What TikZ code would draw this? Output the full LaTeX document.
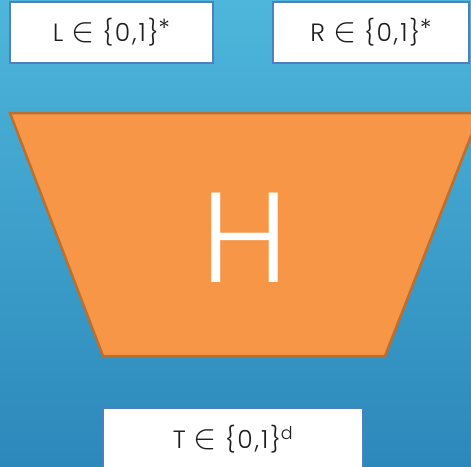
\documentclass[tikz,border=0pt]{standalone}
\usepackage{fontspec}
\setmainfont{Poppins}
\newfontfamily\thinfont{Poppins Light}
\newfontfamily\boxfont[LetterSpace=8]{Poppins Light}
\usetikzlibrary{positioning}
\definecolor{skytop}{RGB}{78,182,219}
\definecolor{skybottom}{RGB}{44,136,186}
\definecolor{boxline}{RGB}{79,127,192}
\definecolor{hashorange}{RGB}{247,150,70}
\definecolor{hashline}{RGB}{190,110,45}
\definecolor{textgray}{RGB}{30,30,30}
\newcommand{\elem}{\hspace{8pt}\scalebox{1.4}{$\in$}\hspace{8pt}}
\newcommand{\kleene}{\raisebox{4pt}{*}}

\begin{document}
\begin{tikzpicture}[x=1pt,y=-1pt,
  inbox/.style={draw=boxline,line width=2pt,fill=white,minimum height=61pt,inner sep=0pt,font=\boxfont\fontsize{25}{28}\selectfont,text=textgray},
  hashbody/.style={fill=hashorange,draw=hashline,line width=2.5pt,line join=miter},
  hashlabel/.style={text=white,font=\thinfont\fontsize{128}{130}\selectfont,inner sep=0pt}
]
  \useasboundingbox (0,0) rectangle (471,466);
  \clip (0,0) rectangle (471,466);
  \shade[top color=skytop,bottom color=skybottom] (0,0) rectangle (471,466);

  \node[inbox,minimum width=203pt] (left) at (111.5,32.5) {L\elem\{0,1\}\kleene};
  \node[inbox,minimum width=196pt] (right) at (371,32.5) {R\elem\{0,1\}\kleene};

  \draw[hashbody] (10,113) -- (480,113) -- (385,356) -- (103,356) -- cycle;
  \node[hashlabel] (hash) at (244.5,237.5) {H};

  \node[inbox,minimum width=260pt,minimum height=62pt] (out) at (233,439) {T\elem\{0,1\}\textsuperscript{d}};
\end{tikzpicture}
\end{document}
